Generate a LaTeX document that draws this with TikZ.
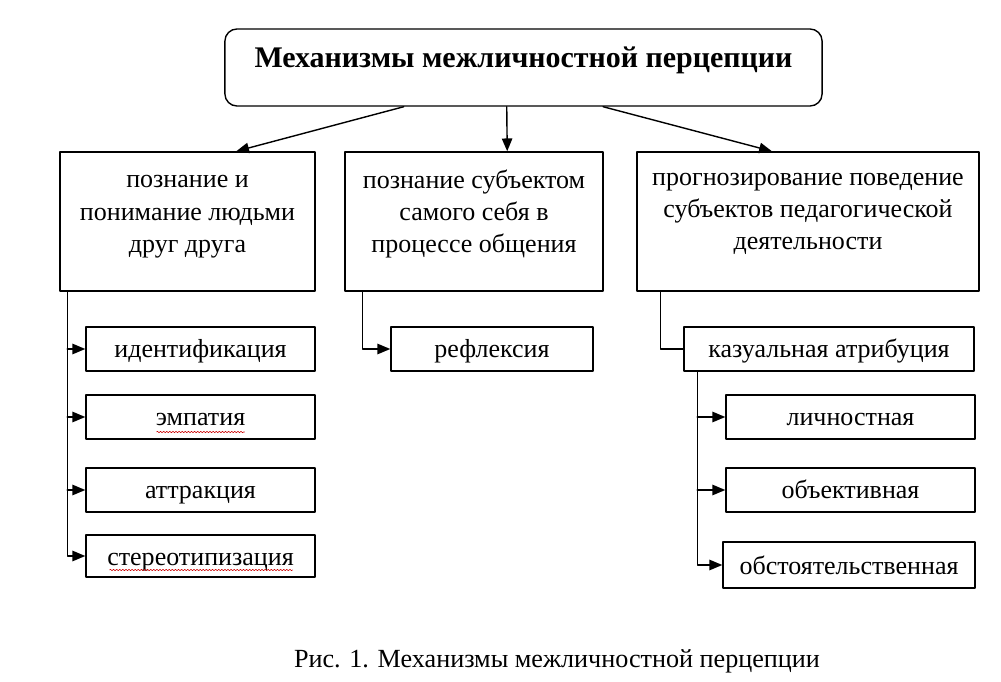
\documentclass[tikz,border=0pt]{standalone}
\usepackage{fontspec}
\setmainfont{Liberation Serif}
\usetikzlibrary{arrows.meta,decorations.pathmorphing,calc}

\begin{document}
\begin{tikzpicture}[line cap=round,line join=round,>={Triangle[length=3.2mm,width=2.6mm]},x=0.025cm,y=-0.025cm,
  box/.style={draw,line width=1pt,rectangle,inner sep=0pt},
  txt/.style={font=\fontsize{18.5}{23}\selectfont,align=center},
  sub/.style={box,font=\fontsize{18.5}{23}\selectfont,text height=16pt,text depth=3.2pt},
  link/.style={line width=1pt,->},
  wavy/.style={red!80!black,line width=0.4pt,decorate,decoration={snake,amplitude=0.5pt,segment length=2.2pt}}]
\useasboundingbox (0,0) rectangle (1001,682);
% top box
\node[box,rounded corners=0.3cm,minimum width=14.925cm,minimum height=1.925cm] (top) at (523.5,67.5) {};
\node[txt,font=\fontsize{21.3}{25}\bfseries] (topt) at (523.5,60) {Механизмы межличностной перцепции};
% second row
\node[box,minimum width=6.375cm,minimum height=3.475cm] (know) at (187.5,221.5) {};
\node[box,minimum width=6.45cm,minimum height=3.475cm] (self) at (474,221.5) {};
\node[box,minimum width=8.55cm,minimum height=3.475cm] (prog) at (808,221.5) {};
\node[txt] (knowt) at (187.5,217) {познание и\\понимание людьми\\друг друга};
\node[txt] (selft) at (474,214) {познание субъектом\\самого себя в\\процессе общения};
\node[txt] (progt) at (808,214) {прогнозирование поведение\\субъектов педагогической\\деятельности};
% left column
\node[sub,minimum width=5.725cm,minimum height=1.1cm] (iden) at (200.5,349) {идентификация};
\node[sub,minimum width=5.725cm,minimum height=1.1cm] (emp) at (200.5,417) {эмпатия};
\node[sub,minimum width=5.725cm,minimum height=1.1cm] (attr) at (200.5,490) {аттракция};
\node[sub,minimum width=5.725cm,minimum height=1.05cm] (stereo) at (200.5,556) {стереотипизация};
% middle column
\node[sub,minimum width=5.05cm,minimum height=1.1cm] (refl) at (492,349) {рефлексия};
% right column
\node[sub,minimum width=7.25cm,minimum height=1.1cm] (kaz) at (829,349) {казуальная атрибуция};
\node[sub,minimum width=6.225cm,minimum height=1.1cm] (lich) at (850.5,417) {личностная};
\node[sub,minimum width=6.225cm,minimum height=1.1cm] (obj) at (850.5,490) {объективная};
\node[sub,minimum width=6.3cm,minimum height=1.15cm] (obst) at (849,565) {обстоятельственная};
% caption
\node[font=\fontsize{18.6}{22}\selectfont] (cap) at (557,661) {Рис. 1. Механизмы межличностной перцепции};

% arrows from the top box
\draw[link] ($(top.south west)!0.30!(top.south east)$) -- ($(know.north west)!0.69!(know.north east)$);
\draw[link] ($(top.south west)!0.472!(top.south east)$) -- ($(self.north west)!0.628!(self.north east)$);
\draw[link] ($(top.south west)!0.633!(top.south east)$) -- ($(prog.north west)!0.395!(prog.north east)$);

% left spine
\coordinate (lspine) at ([xshift=0.2cm]know.south west);
\draw[link] (lspine) |- (stereo.west);
\foreach \n in {iden,emp,attr}
  \draw[link] (lspine |- \n.west) -- (\n.west);

% middle
\draw[link] ([xshift=0.45cm]self.south west) |- (refl.west);

% right
\draw[line width=1pt] ([xshift=0.6cm]prog.south west) |- (kaz.west);
\coordinate (rspine) at ([xshift=0.35cm]kaz.south west);
\draw[link] (rspine) |- (obst.west);
\foreach \n in {lich,obj}
  \draw[link] (rspine |- \n.west) -- (\n.west);

% spelling marks
\draw[wavy] ($(emp.center)+(-44,15)$) -- ($(emp.center)+(44,15)$);
\draw[wavy] ($(stereo.center)+(-91,14)$) -- ($(stereo.center)+(92,14)$);
\end{tikzpicture}
\end{document}
